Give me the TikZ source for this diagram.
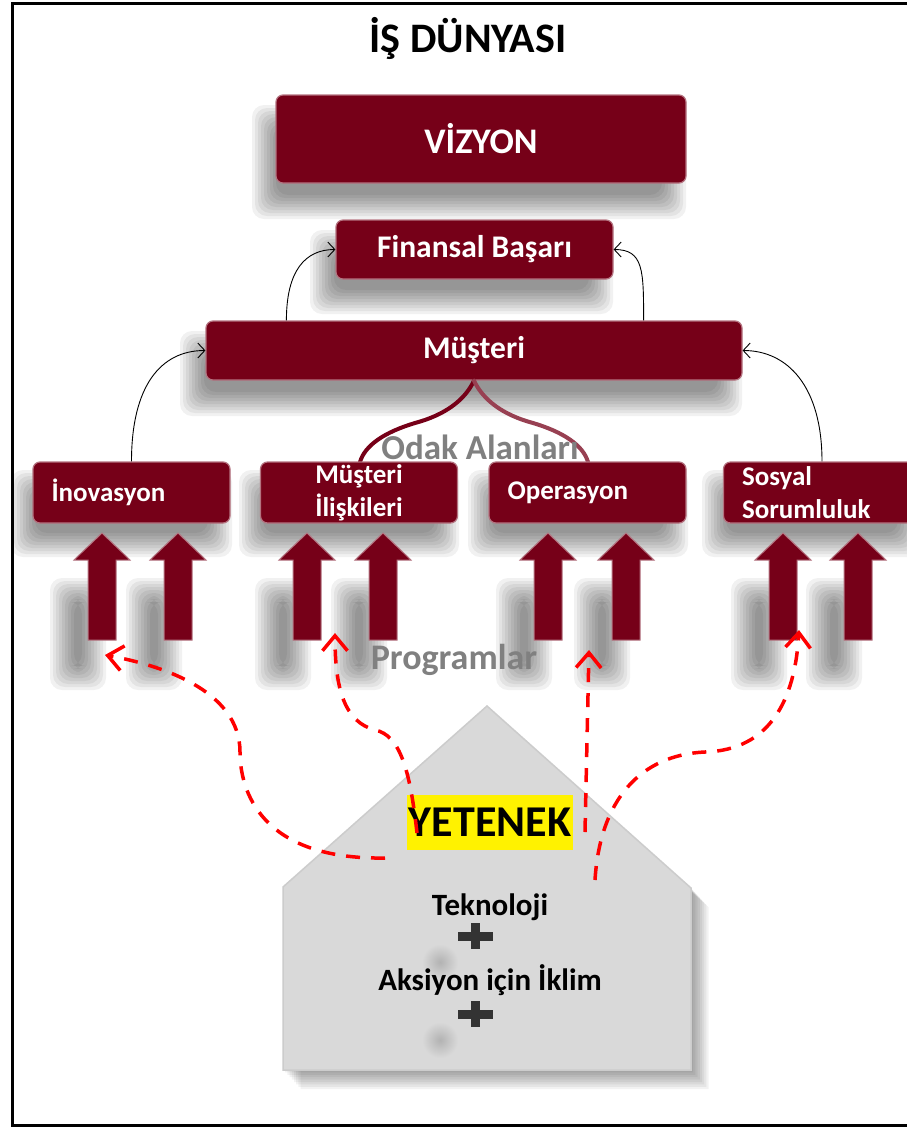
\documentclass[tikz,border=0pt]{standalone}
\usepackage{fontspec}
\setmainfont{Carlito}
\usetikzlibrary{arrows.meta}
\definecolor{boxred}{RGB}{118,0,24}
\definecolor{housegray}{RGB}{217,217,217}
\definecolor{labelgray}{RGB}{128,128,128}
% soft shadow: stacked translucent rectangles
\newcommand{\softshadow}[4]{%
  \foreach \k in {0,...,8}
    {\fill[black, opacity=.055, rounded corners=12pt] (#1-\k*3+12,#2-\k*3+12) rectangle (#3+\k*3-12,#4+\k*3-12);}}

\begin{document}
\begin{tikzpicture}[x=1pt,y=-1pt,
  redbox/.style={rectangle, rounded corners=7pt, fill=boxred, draw=boxred!55!white, line width=1.2pt,
    text=white, inner sep=0pt},
  smallbox/.style={redbox, minimum width=197pt, minimum height=61pt, text width=160pt, align=left,
    font=\fontsize{27}{33}\selectfont\bfseries},
  link/.style={-{Straight Barb[length=7pt,width=15pt]}, line width=0.9pt},
  reddash/.style={-{Straight Barb[length=15pt,width=25pt]}, red, line width=3.5pt, dash pattern=on 14pt off 11pt},
  graylabel/.style={text=labelgray, font=\fontsize{35}{38}\selectfont\bfseries},
  housetext/.style={font=\fontsize{31}{34}\selectfont\bfseries}
]
\useasboundingbox (0,0) rectangle (906,1128);
\fill[white] (0,0) rectangle (906,1128);
\draw[line width=3pt] (12,3) rectangle (960,1125);

\node[font=\fontsize{42}{44}\selectfont\bfseries] (title) at (468,38) {İŞ DÜNYASI};

% shadows
\softshadow{264}{117}{674}{207}
\softshadow{322}{242}{601}{302}
\softshadow{192}{343}{730}{404}
\foreach \a/\b in {33/230,261/457,490/686,724/920}
  {\softshadow{\a-10}{482}{\b-10}{545}}
\foreach \x in {102,178,307,383,548,626,783,858}
  {\softshadow{\x-40}{590}{\x-8}{678}}

% top boxes
\node[redbox, minimum width=410pt, minimum height=88pt, font=\fontsize{36}{38}\selectfont\bfseries] (vizyon) at (481,139) {VİZYON};
\node[redbox, minimum width=277pt, minimum height=59pt, font=\fontsize{31.5}{34}\selectfont\bfseries] (finans) at (474.5,249.5) {Finansal Başarı};
\node[redbox, minimum width=536pt, minimum height=59pt, font=\fontsize{31.5}{34}\selectfont\bfseries] (musteri) at (474,350.5) {Müşteri};

% brace
\draw[boxred, line width=4pt, line cap=round] (musteri.south) .. controls (465,400) and (445,415) .. (415,423) .. controls (385,432) and (365,445) .. (360,462);
\draw[boxred!75!white, line width=4pt, line cap=round] (musteri.south) .. controls (483,400) and (503,415) .. (533,423) .. controls (563,432) and (583,445) .. (588,462);
\node[graylabel] (odak) at (480,447) {Odak Alanları};

% focus areas
\node[smallbox] (inovasyon) at (131.5,492.5) {İnovasyon};
\node[smallbox, align=center] (iliski) at (359,492.5) {Müşteri\\İlişkileri};
\node[smallbox] (operasyon) at (587.5,492.5) {Operasyon};
\node[smallbox] (sosyal) at (822,492.5) {Sosyal\\Sorumluluk};

\draw[link] (inovasyon.north) .. controls +(0,-75) and +(-45,0) .. (musteri.west);
\draw[link] (sosyal.north) .. controls +(0,-75) and +(45,0) .. (musteri.east);
\draw[link] ([xshift=81pt]musteri.north west) .. controls +(0,-50) and +(-30,0) .. (finans.west);
\draw[link] ([xshift=-99pt]musteri.north east) .. controls +(0,-50) and +(30,0) .. (finans.east);

% programmes
\foreach \x in {102,178,307,383,548,626,783,858}
  \path[fill=boxred, draw=boxred!55!white, line width=1pt]
    (\x-14,640) -- (\x-14,560) -- (\x-28,560) -- (\x,533) -- (\x+28,560) -- (\x+14,560) -- (\x+14,640) -- cycle;
\node[graylabel, font=\fontsize{36}{38}\selectfont\bfseries] (prog) at (454,660) {Programlar};

% house
\foreach \k in {1,...,8}
  \fill[black, opacity=.05] ([shift={(\k*2.2,\k*2.4)}]283,887) -- ([shift={(\k*2.2,\k*2.4)}]487,706)
    -- ([shift={(\k*2.2,\k*2.4)}]691,888) -- ([shift={(\k*2.2,\k*2.4)}]691,1070) -- ([shift={(\k*2.2,\k*2.4)}]283,1070) -- cycle;
\path[fill=housegray, draw=black!20, line width=1.5pt]
  (283,887) -- (487,706) -- (691,888) -- (691,1070) -- (283,1070) -- cycle;
\shade[inner color=black!30, outer color=housegray] (440,962) circle (18pt);
\shade[inner color=black!30, outer color=housegray] (440,1040) circle (18pt);
\node[fill=yellow, inner sep=0pt, minimum width=166pt, minimum height=55pt,
  font=\fontsize{44}{46}\selectfont\bfseries] (yetenek) at (490,822) {YETENEK};
\node[housetext] (tekno) at (490,907) {Teknoloji};
\node[housetext] (iklim) at (490,980) {Aksiyon için İklim};
\draw[line width=9pt, black!80] (458,936) -- (493,936) (475,923) -- (475,949);
\draw[line width=9pt, black!80] (458,1014) -- (493,1014) (475,1001) -- (475,1027);

% talent to programmes
\coordinate (s1) at (385,858);
\coordinate (e1) at (105,655);
\coordinate (s2) at (417,833);
\coordinate (e2) at (335,633);
\coordinate (s3) at (585,832);
\coordinate (e3) at (589,650);
\coordinate (s4) at (595,880);
\coordinate (e4) at (799,630);
\draw[reddash] (s1) .. controls (260,860) and (240,790) .. (240,752) .. controls (240,690) and (160,665) .. (e1);
\draw[reddash] (s2) .. controls (410,770) and (400,735) .. (375,730) .. controls (345,722) and (335,690) .. (e2);
\draw[reddash] (s3) -- (e3);
\draw[reddash] (s4) .. controls (600,800) and (640,755) .. (705,752) .. controls (770,750) and (795,700) .. (e4);
\end{tikzpicture}
\end{document}
